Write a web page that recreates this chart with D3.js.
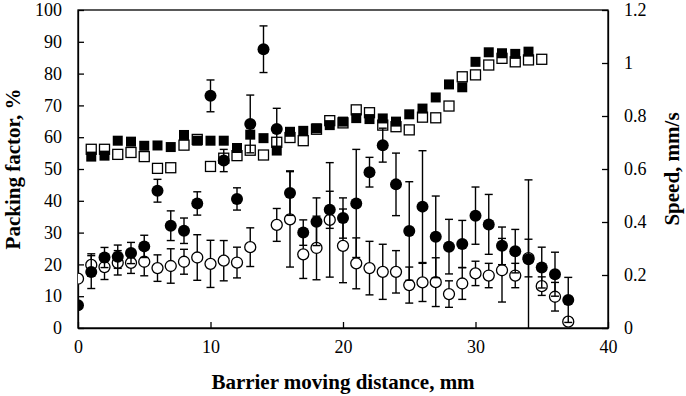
<!DOCTYPE html>
<html>
<head>
<meta charset="utf-8">
<script src="https://cdn.jsdelivr.net/npm/d3@7"></script>
<style>
  html, body { margin: 0; padding: 0; background: #fff; }
  svg { display: block; font-family: "Liberation Serif", "Times New Roman", serif; }
</style>
</head>
<body>
<svg id="chart" width="686" height="396"></svg>
<script>
// Packing factor (%) — squares, left axis
var squareFilledX = [1,2,3,4,5,6,7,8,9,10,11,12,13,14,15,16,17,18,19,20,21,22,23,24,25,26,27,28,29,30,31,32,33,34];
var squareFilled  = [53.9,54.2,58.9,58.6,57.3,57.4,56.9,60.7,58.9,58.9,58.9,56.6,60.8,59.7,55.8,61.7,62.0,62.8,63.8,64.9,66.0,65.7,65.9,64.9,67.2,69.0,72.5,76.6,75.7,83.7,86.7,86.4,86.2,86.9];
var squareOpenX   = [1,2,3,4,5,6,7,8,9,10,11,12,13,14,15,16,17,18,19,20,21,22,23,24,25,26,27,28,29,30,31,32,33,34,35];
var squareOpen    = [56.2,56.2,54.6,55.2,53.9,50.2,50.4,57.5,59.3,50.8,53.4,54.2,55.9,54.4,58.4,59.9,58.9,62.5,65.2,64.5,68.6,67.7,63.8,63.3,62.3,66.3,66.1,69.8,79.0,79.6,82.7,84.8,83.7,84.3,84.5];

// Speed (mm/s) — circles with error bars, right axis
var circleFilledX = [0,1,2,3,4,5,6,7,8,9,10,11,12,13,14,15,16,17,18,19,20,21,22,23,24,25,26,27,28,29,30,31,32,33,34,35,36,37];
var circleFilled  = [0.086,0.211,0.266,0.269,0.283,0.308,0.518,0.386,0.367,0.470,0.876,0.632,0.487,0.770,1.052,0.751,0.509,0.360,0.401,0.446,0.415,0.470,0.588,0.690,0.542,0.366,0.458,0.344,0.307,0.317,0.424,0.391,0.310,0.290,0.259,0.228,0.203,0.106];
var circleFilledErr = [0,0.062,0.038,0.044,0.040,0.042,0.043,0.056,0.048,0.044,0.060,0.042,0.042,0.109,0.088,0.078,0.084,0.048,0.090,0.070,0.076,0.204,0.056,0.064,0.118,0.186,0.211,0.154,0.103,0.089,0.108,0.113,0.071,0.082,0.300,0.077,0.083,0.085];
var circleOpenX   = [0,1,2,3,4,5,6,7,8,9,10,11,12,13,15,16,17,18,19,20,21,22,23,24,25,26,27,28,29,30,31,32,33,34,35,36,37];
var circleOpen    = [0.186,0.238,0.230,0.246,0.246,0.250,0.226,0.234,0.250,0.266,0.242,0.254,0.247,0.305,0.389,0.410,0.278,0.302,0.408,0.310,0.244,0.226,0.212,0.212,0.162,0.172,0.173,0.128,0.168,0.206,0.198,0.218,0.198,0.264,0.158,0.118,0.024];
var circleOpenErr = [0,0.042,0.047,0.046,0.040,0.053,0.050,0.065,0.047,0.086,0.089,0.076,0.058,0.073,0.062,0.180,0.091,0.120,0.216,0.139,0.096,0.101,0.104,0.080,0.068,0.072,0.092,0.050,0.060,0.046,0.046,0.120,0.046,0.071,0.035,0.054,0.012];

var xTicks = [0, 10, 20, 30, 40];
var leftTicks = [0,10,20,30,40,50,60,70,80,90,100];
var rightTicks = [0,0.2,0.4,0.6,0.8,1,1.2];

(function () {
  'use strict';

  var svg = d3.select('#chart');
  var m = { left: 78, right: 608, top: 10, bottom: 328 };
  var serif = '"Liberation Serif", "Times New Roman", serif';

  var x = d3.scaleLinear().domain([0, 40]).range([m.left, m.right]);
  var yL = d3.scaleLinear().domain([0, 100]).range([m.bottom, m.top]);
  var yR = d3.scaleLinear().domain([0, 1.2]).range([m.bottom, m.top]);

  function zip(xs, ys, es) {
    return xs.map(function (d, i) { return { x: d, y: ys[i], e: es ? es[i] : 0 }; });
  }

  svg.append('defs').append('clipPath').attr('id', 'plot-clip')
    .append('rect').attr('x', m.left).attr('y', m.top)
    .attr('width', m.right - m.left).attr('height', m.bottom - m.top);

  // frame
  svg.append('rect').attr('x', m.left).attr('y', m.top)
    .attr('width', m.right - m.left).attr('height', m.bottom - m.top)
    .attr('fill', 'none').attr('stroke', '#000').attr('stroke-width', 1.3);

  // axes (ticks inside)
  var gx = svg.append('g').attr('transform', 'translate(0,' + m.bottom + ')')
    .call(d3.axisBottom(x).tickValues(xTicks).tickSizeInner(-6).tickSizeOuter(0).tickPadding(12));
  var gl = svg.append('g').attr('transform', 'translate(' + m.left + ',0)')
    .call(d3.axisLeft(yL).tickValues(leftTicks).tickSizeInner(-6).tickSizeOuter(0).tickPadding(16));
  var gr = svg.append('g').attr('transform', 'translate(' + m.right + ',0)')
    .call(d3.axisRight(yR).tickValues(rightTicks).tickSizeInner(-6).tickSizeOuter(0).tickPadding(16)
      .tickFormat(function (d) { return String(+d.toFixed(1)); }));
  [gx, gl, gr].forEach(function (g) {
    g.attr('font-family', serif).attr('font-size', 18);
    g.select('.domain').attr('stroke', '#000').attr('stroke-width', 1.3);
    g.selectAll('.tick line').attr('stroke', '#000').attr('stroke-width', 1.3);
    g.selectAll('.tick text').attr('fill', '#000');
  });

  var plot = svg.append('g').attr('clip-path', 'url(#plot-clip)');
  var sq = 10;

  // open squares
  plot.selectAll('.sq-open').data(zip(squareOpenX, squareOpen)).enter().append('rect')
    .attr('class', 'sq-open')
    .attr('x', function (d) { return x(d.x) - sq / 2; })
    .attr('y', function (d) { return yL(d.y) - sq / 2; })
    .attr('width', sq).attr('height', sq)
    .attr('fill', '#fff').attr('stroke', '#000').attr('stroke-width', 1.3);

  // filled squares
  plot.selectAll('.sq-fill').data(zip(squareFilledX, squareFilled)).enter().append('rect')
    .attr('class', 'sq-fill')
    .attr('x', function (d) { return x(d.x) - sq / 2; })
    .attr('y', function (d) { return yL(d.y) - sq / 2; })
    .attr('width', sq).attr('height', sq)
    .attr('fill', '#000');

  function errorBars(data, cls) {
    var g = plot.selectAll('.' + cls).data(data).enter().append('g').attr('class', cls)
      .attr('stroke', '#000').attr('stroke-width', 1.4);
    g.append('line')
      .attr('x1', function (d) { return x(d.x); }).attr('x2', function (d) { return x(d.x); })
      .attr('y1', function (d) { return yR(d.y + d.e); })
      .attr('y2', function (d) { return yR(d.y - d.e); });
    [1, -1].forEach(function (s) {
      g.append('line')
        .attr('x1', function (d) { return x(d.x) - 4; }).attr('x2', function (d) { return x(d.x) + 4; })
        .attr('y1', function (d) { return yR(d.y + s * d.e); })
        .attr('y2', function (d) { return yR(d.y + s * d.e); });
    });
  }

  var openData = zip(circleOpenX, circleOpen, circleOpenErr);
  var fillData = zip(circleFilledX, circleFilled, circleFilledErr);

  errorBars(openData, 'err-open');
  plot.selectAll('.c-open').data(openData).enter().append('circle')
    .attr('class', 'c-open')
    .attr('cx', function (d) { return x(d.x); })
    .attr('cy', function (d) { return yR(d.y); })
    .attr('r', 5.5)
    .attr('fill', '#fff').attr('stroke', '#000').attr('stroke-width', 1.3);

  errorBars(fillData, 'err-fill');
  plot.selectAll('.c-fill').data(fillData).enter().append('circle')
    .attr('class', 'c-fill')
    .attr('cx', function (d) { return x(d.x); })
    .attr('cy', function (d) { return yR(d.y); })
    .attr('r', 6)
    .attr('fill', '#000');

  // axis titles
  svg.append('text').attr('x', (m.left + m.right) / 2).attr('y', 389)
    .attr('text-anchor', 'middle').style('font-size', '21px').style('font-weight', 'bold')
    .text('Barrier moving distance, mm');
  svg.append('text').attr('transform', 'translate(20,' + (m.top + m.bottom) / 2 + ') rotate(-90)')
    .attr('text-anchor', 'middle').style('font-size', '21px').style('font-weight', 'bold')
    .text('Packing factor, %');
  svg.append('text').attr('transform', 'translate(679,' + (m.top + m.bottom) / 2 + ') rotate(-90)')
    .attr('text-anchor', 'middle').style('font-size', '21px').style('font-weight', 'bold')
    .text('Speed, mm/s');
})();
</script>
</body>
</html>
